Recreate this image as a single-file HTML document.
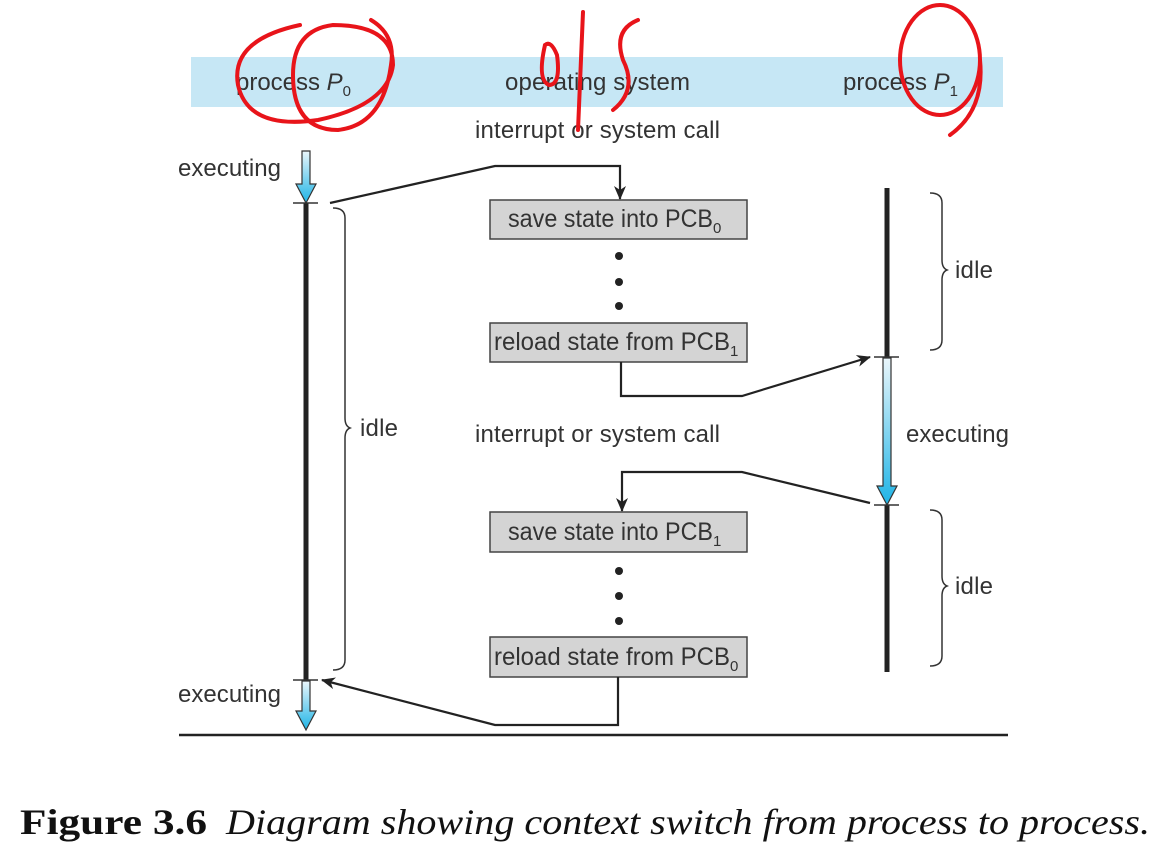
<!DOCTYPE html>
<html><head><meta charset="utf-8"><style>html,body{margin:0;padding:0;background:#fff;}svg{display:block;}</style></head>
<body>
<svg width="1168" height="862" viewBox="0 0 1168 862" xmlns="http://www.w3.org/2000/svg" font-family="Liberation Sans, sans-serif">
<defs>
<linearGradient id="g" x1="0" y1="0" x2="0" y2="1"><stop offset="0" stop-color="#eaf6fb"/><stop offset="1" stop-color="#1eb4e6"/></linearGradient>
<marker id="a" markerWidth="14" markerHeight="12" refX="13" refY="6" orient="auto" markerUnits="userSpaceOnUse"><path d="M0,0 L14,6 L0,12 L4,6 z" fill="#222"/></marker>
</defs>
<rect x="191" y="57" width="812" height="50" fill="#c6e7f5"/>
<g font-size="24" fill="#333">
<text x="236" y="90"><tspan textLength="84">process</tspan> <tspan font-style="italic">P</tspan><tspan font-size="15" dy="6">0</tspan></text>
<text x="505" y="90" textLength="185">operating system</text>
<text x="843" y="90"><tspan textLength="84">process</tspan> <tspan font-style="italic">P</tspan><tspan font-size="15" dy="6">1</tspan></text>
<text x="475" y="138" textLength="245">interrupt or system call</text>
<text x="475" y="442" textLength="245">interrupt or system call</text>
<text x="178" y="176" textLength="103">executing</text>
<text x="178" y="702" textLength="103">executing</text>
<text x="360" y="436" textLength="38">idle</text>
<text x="955" y="278" textLength="38">idle</text>
<text x="955" y="594" textLength="38">idle</text>
<text x="906" y="442" textLength="103">executing</text>
</g>
<path d="M302,151 h8 v33 h6 l-10,19 l-10,-19 h6 z" fill="url(#g)" stroke="#333" stroke-width="1.2"/>
<path d="M302,681 h8 v30 h6 l-10,19 l-10,-19 h6 z" fill="url(#g)" stroke="#333" stroke-width="1.2"/>
<line x1="306" y1="203" x2="306" y2="680" stroke="#222" stroke-width="5"/>
<line x1="293" y1="203" x2="318" y2="203" stroke="#333" stroke-width="1.5"/>
<line x1="293" y1="680" x2="318" y2="680" stroke="#333" stroke-width="1.5"/>
<path d="M333,208 q12,0 12,10 v200 q0,8 5,10 q-5,2 -5,10 v222 q0,10 -12,10" fill="none" stroke="#333" stroke-width="1.5"/>
<line x1="887" y1="188" x2="887" y2="357" stroke="#222" stroke-width="5"/>
<line x1="887" y1="505" x2="887" y2="672" stroke="#222" stroke-width="5"/>
<path d="M883,358 h8 v128 h6 l-10,19 l-10,-19 h6 z" fill="url(#g)" stroke="#333" stroke-width="1.2"/>
<line x1="874" y1="357" x2="899" y2="357" stroke="#333" stroke-width="1.5"/>
<line x1="874" y1="505" x2="899" y2="505" stroke="#333" stroke-width="1.5"/>
<path d="M930,193 q12,0 12,10 v57 q0,8 5,10 q-5,2 -5,10 v60 q0,10 -12,10" fill="none" stroke="#333" stroke-width="1.5"/>
<path d="M930,510 q12,0 12,10 v56 q0,8 5,10 q-5,2 -5,10 v60 q0,10 -12,10" fill="none" stroke="#333" stroke-width="1.5"/>
<g fill="#d4d4d4" stroke="#444" stroke-width="1.5">
<rect x="490" y="200" width="257" height="39"/>
<rect x="490" y="323" width="257" height="39"/>
<rect x="490" y="512" width="257" height="40"/>
<rect x="490" y="637" width="257" height="40"/>
</g>
<g font-size="25" fill="#333">
<text x="508" y="227"><tspan textLength="205" lengthAdjust="spacingAndGlyphs">save state into PCB</tspan><tspan font-size="15" dy="6">0</tspan></text>
<text x="494" y="350"><tspan textLength="236" lengthAdjust="spacingAndGlyphs">reload state from PCB</tspan><tspan font-size="15" dy="6">1</tspan></text>
<text x="508" y="540"><tspan textLength="205" lengthAdjust="spacingAndGlyphs">save state into PCB</tspan><tspan font-size="15" dy="6">1</tspan></text>
<text x="494" y="665"><tspan textLength="236" lengthAdjust="spacingAndGlyphs">reload state from PCB</tspan><tspan font-size="15" dy="6">0</tspan></text>
</g>
<g fill="#222">
<circle cx="619" cy="256" r="4"/><circle cx="619" cy="282" r="4"/><circle cx="619" cy="306" r="4"/>
<circle cx="619" cy="571" r="4"/><circle cx="619" cy="596" r="4"/><circle cx="619" cy="621" r="4"/>
</g>
<g fill="none" stroke="#222" stroke-width="2.2">
<path d="M330,203 L495,166 H620 V199" marker-end="url(#a)"/>
<path d="M621,362 V396 H742 L870,357" marker-end="url(#a)"/>
<path d="M870,503 L742,472 H622 V511" marker-end="url(#a)"/>
<path d="M618,677 V725 H495 L322,680" marker-end="url(#a)"/>
</g>
<line x1="179" y1="735" x2="1008" y2="735" stroke="#222" stroke-width="2.5"/>
<g fill="none" stroke="#e8141a" stroke-width="4" stroke-linecap="round">
<path d="M300,25 q-70,15 -62,60 q10,45 80,35 q70,-15 75,-55 q0,-40 -60,-40 q-40,5 -40,50 q0,55 45,55 q45,-5 53,-65 q5,-30 -20,-45"/>
<path d="M545,45 q-8,35 4,40 q12,0 8,-30 q-6,-15 -12,-10"/>
<path d="M583,12 L578,130"/>
<path d="M638,20 q-25,10 -15,40 q15,30 -10,50"/>
<ellipse cx="940" cy="60" rx="40" ry="55"/>
<path d="M980,60 q5,50 -30,75"/>
</g>
<text x="20" y="834" font-family="Liberation Serif, serif" font-size="36" fill="#111" font-weight="bold" textLength="187" lengthAdjust="spacingAndGlyphs">Figure 3.6</text>
<text x="226" y="834" font-family="Liberation Serif, serif" font-size="36" fill="#111" font-style="italic" textLength="924" lengthAdjust="spacingAndGlyphs">Diagram showing context switch from process to process.</text>
</svg>
</body></html>
